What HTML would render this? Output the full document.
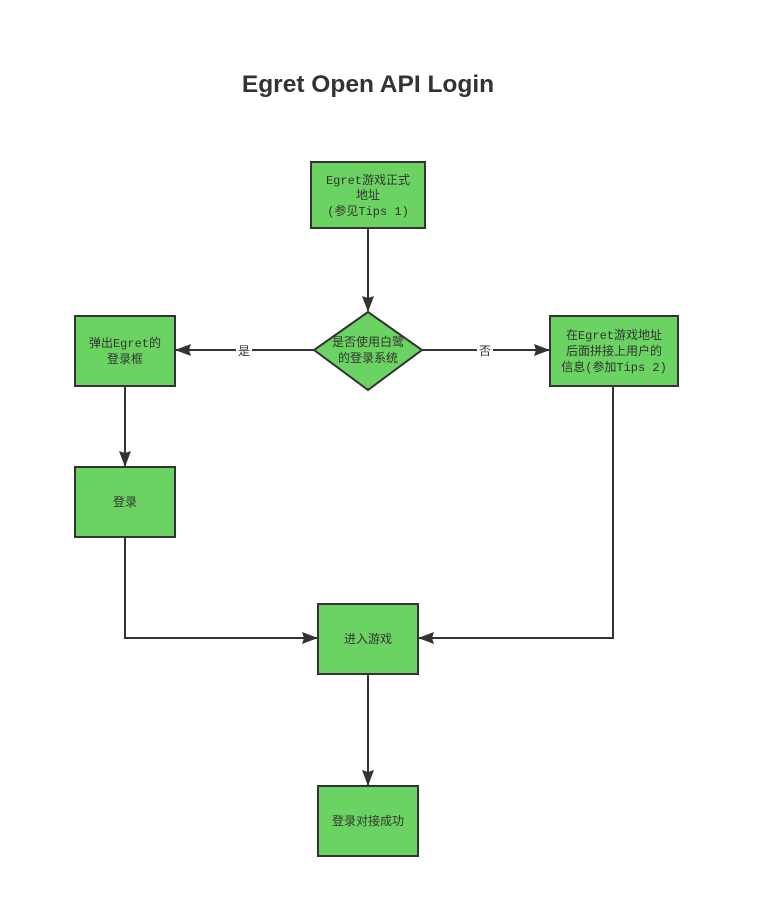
<!DOCTYPE html>
<html><head><meta charset="utf-8"><style>
html,body{margin:0;padding:0;background:#fff;width:759px;height:902px;overflow:hidden}
svg{display:block}
text{font-family:"Liberation Mono","Noto Sans CJK SC",monospace;font-size:12px;fill:#333}
</style></head><body>
<svg width="759" height="902" viewBox="0 0 759 902">
<defs><marker id="a" markerWidth="16" markerHeight="12" refX="15" refY="6" orient="auto" markerUnits="userSpaceOnUse"><path d="M0,0 L16,6 L0,12 L2,6 Z" fill="#333"/></marker></defs>
<text x="368" y="92" text-anchor="middle" style="font-family:'Liberation Sans',sans-serif;font-size:24.5px;font-weight:bold;fill:#333">Egret Open API Login</text>
<g stroke="#333" stroke-width="2" fill="none">
<line x1="368" y1="228" x2="368" y2="311" marker-end="url(#a)"/>
<line x1="314" y1="350" x2="176" y2="350" marker-end="url(#a)"/>
<line x1="422" y1="350" x2="549" y2="350" marker-end="url(#a)"/>
<line x1="125" y1="386" x2="125" y2="466" marker-end="url(#a)"/>
<polyline points="125,537 125,638 317,638" marker-end="url(#a)"/>
<polyline points="613,386 613,638 419,638" marker-end="url(#a)"/>
<line x1="368" y1="674" x2="368" y2="785" marker-end="url(#a)"/>
</g>
<rect x="236" y="343" width="16" height="14" fill="#fff"/><text x="244" y="355" text-anchor="middle">是</text>
<rect x="477" y="343" width="16" height="14" fill="#fff"/><text x="485" y="355" text-anchor="middle">否</text>
<g fill="#6bd361" stroke="#333" stroke-width="2">
<rect x="311" y="162" width="114" height="66"/>
<polygon points="368,312 422,350 368,390 314,350"/>
<rect x="75" y="316" width="100" height="70"/>
<rect x="550" y="316" width="128" height="70"/>
<rect x="75" y="467" width="100" height="70"/>
<rect x="318" y="604" width="100" height="70"/>
<rect x="318" y="786" width="100" height="70"/>
</g>
<g text-anchor="middle">
<text x="368" y="184">Egret游戏正式</text>
<text x="368" y="199">地址</text>
<text x="368" y="215">(参见Tips 1)</text>
<text x="368" y="346">是否使用白鹭</text>
<text x="368" y="362">的登录系统</text>
<text x="125" y="347">弹出Egret的</text>
<text x="125" y="363">登录框</text>
<text x="614" y="339">在Egret游戏地址</text>
<text x="614" y="355">后面拼接上用户的</text>
<text x="614" y="371">信息(参加Tips 2)</text>
<text x="125" y="506">登录</text>
<text x="368" y="643">进入游戏</text>
<text x="368" y="825">登录对接成功</text>
</g>
</svg>
</body></html>
